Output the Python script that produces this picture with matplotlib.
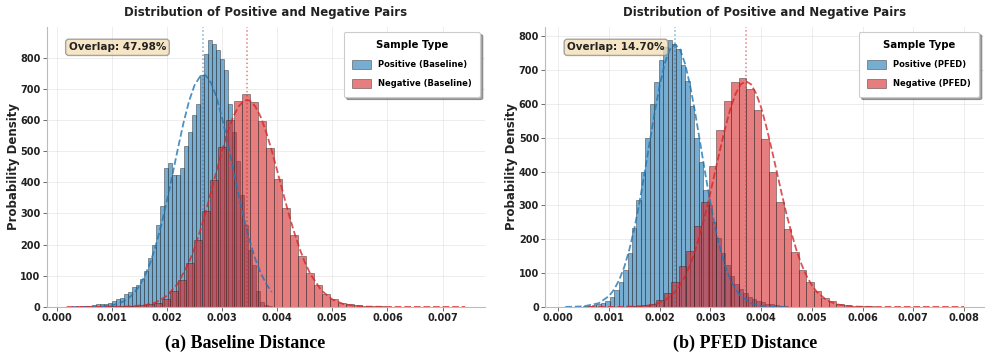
import numpy as np
import matplotlib
matplotlib.use("Agg")
import matplotlib.pyplot as plt
from matplotlib.ticker import MultipleLocator, FormatStrFormatter

# ---- histogram data (density per bin) ----
# (a) baseline
base_pos_start, base_pos_width = 0.00028, 0.0000724
base_pos_h = [0.5, 1, 1.5, 2, 3, 5, 10, 11, 11, 12,
              19, 26, 30, 41, 49, 63, 71, 90, 114, 157,
              199, 264, 323, 446, 462, 425, 425, 446, 516, 562,
              617, 653, 746, 812, 856, 845, 825, 795, 760, 652,
              562, 467, 360, 264, 183, 135, 51, 17, 6, 2]
base_neg_start, base_neg_width = 0.00018, 0.0001446
base_neg_h = [0.1, 0.2, 0.3, 0.5, 1, 1.5, 2, 3, 4, 6,
              8, 12, 25, 51, 87, 140, 215, 307, 408, 512,
              601, 662, 684, 658, 596, 510, 412, 317, 231, 162,
              108, 71, 42, 25, 14, 8, 5, 3, 2, 1.5,
              1, 0.8, 0.5, 0.5, 0.3, 0.3, 0.3, 0.3, 0.3, 0.3]

# (b) PFED
pfed_pos_start, pfed_pos_width = 0.00014, 0.0000876
pfed_pos_h = [0.3, 0.5, 0.8, 1, 2, 3, 5, 8, 12, 18,
              30, 50, 74, 110, 160, 234, 317, 400, 500, 600,
              666, 730, 767, 788, 778, 761, 714, 667, 594, 500,
              428, 347, 300, 250, 205, 160, 125, 90, 68, 52,
              40, 30, 24, 18, 14, 10, 8, 6, 4, 3]
pfed_neg_start, pfed_neg_width = 0.0006, 0.000148
pfed_neg_h = [0.1, 0.2, 0.3, 0.5, 1, 2, 3, 6, 10, 20,
              40, 75, 120, 165, 240, 310, 416, 522, 610, 665,
              677, 645, 581, 495, 399, 309, 229, 162, 110, 73,
              46, 27, 17, 10, 6, 4, 2.5, 1.5, 1, 0.8,
              0.5, 0.4, 0.3, 0.3, 0.2, 0.2, 0.2, 0.1, 0.1, 0.1]

# ---- fitted curves ----
base_pos_fit_x = [0.00028, 0.0005, 0.0008, 0.0010, 0.0011, 0.0012, 0.0013, 0.0014, 0.0015, 0.0016,
                  0.0017, 0.0018, 0.0019, 0.0020, 0.0021, 0.0022, 0.0023, 0.0024, 0.0025, 0.0026,
                  0.0027, 0.0028, 0.0029, 0.0030, 0.0031, 0.0032, 0.0033, 0.0034, 0.0035, 0.0036,
                  0.0037, 0.0038, 0.0039]
base_pos_fit_y = [0, 0.2, 1.6, 5.5, 10, 17, 28, 44, 68, 101,
                  144, 200, 267, 343, 426, 511, 592, 661, 712, 740,
                  744, 719, 672, 606, 528, 443, 359, 281, 212, 155,
                  109, 74, 48]
base_neg_fit_x = [0.00018, 0.0008, 0.0012, 0.0016, 0.0018, 0.0020, 0.0022, 0.0024, 0.0025, 0.0026,
                  0.0027, 0.0028, 0.0029, 0.0030, 0.0031, 0.0032, 0.0033, 0.0034, 0.0035, 0.0036,
                  0.0037, 0.0038, 0.0039, 0.0040, 0.0041, 0.0042, 0.0043, 0.0044, 0.0045, 0.0046,
                  0.0048, 0.0050, 0.0052, 0.0054, 0.0056, 0.0060, 0.0065, 0.00741]
base_neg_fit_y = [0, 0.04, 0.6, 5.7, 15, 36, 76, 144, 190, 244,
                  304, 370, 437, 502, 561, 610, 644, 663, 663, 644,
                  610, 561, 502, 437, 370, 304, 244, 190, 144, 106,
                  53, 24, 9.4, 3.4, 1.1, 0.1, 0, 0]
pfed_pos_fit_x = [0.00014, 0.0005, 0.0008, 0.0010, 0.0011, 0.0012, 0.0013, 0.0014, 0.0015, 0.0016,
                  0.0017, 0.0018, 0.0019, 0.0020, 0.0021, 0.0022, 0.0023, 0.0024, 0.0025, 0.0026,
                  0.0027, 0.0028, 0.0029, 0.0030, 0.0031, 0.0032, 0.0033, 0.0034, 0.0035, 0.0036,
                  0.0038, 0.0040, 0.0042, 0.00452]
pfed_pos_fit_y = [0.1, 1.7, 11, 32, 51, 79, 117, 168, 231, 307,
                  393, 484, 573, 654, 719, 761, 776, 761, 719, 654,
                  573, 484, 393, 307, 231, 168, 117, 79, 51, 32,
                  11, 3.3, 0.8, 0.05]
pfed_neg_fit_x = [0.0006, 0.0012, 0.0017, 0.0019, 0.0021, 0.0023, 0.0024, 0.0025, 0.0026, 0.0027,
                  0.0028, 0.0029, 0.0030, 0.0031, 0.0032, 0.0033, 0.0034, 0.0035, 0.0036, 0.0037,
                  0.0038, 0.0039, 0.0040, 0.0041, 0.0042, 0.0043, 0.0044, 0.0045, 0.0046, 0.0047,
                  0.0048, 0.0049, 0.0050, 0.0051, 0.0053, 0.0055, 0.0057, 0.0059, 0.0062, 0.0080]
pfed_neg_fit_y = [0, 0.1, 2.6, 7.4, 19, 44, 64, 90, 124, 166,
                  217, 274, 338, 405, 471, 534, 589, 631, 658, 667,
                  658, 631, 589, 534, 471, 405, 338, 274, 217, 166,
                  124, 90, 64, 44, 19, 7.4, 2.6, 0.8, 0.1, 0]

# mean lines and overlap
base_means = (0.00266, 0.00345)
pfed_means = (0.0023, 0.0037)
base_overlap = "Overlap: 47.98%"
pfed_overlap = "Overlap: 14.70%"

BLUE = "#1f77b4"
RED = "#d62728"


def draw_hist(ax, start, width, heights, color, label):
    heights = np.asarray(heights, dtype=float)
    lefts = start + width * np.arange(len(heights))
    ax.bar(lefts, heights, width=width, align="edge", color=color, alpha=0.6,
           edgecolor="#222222", linewidth=0.5, label=label)


def draw_panel(ax, pos, neg, pos_fit, neg_fit, means, overlap, tag):
    draw_hist(ax, *pos, BLUE, "Positive (%s)" % tag)
    draw_hist(ax, *neg, RED, "Negative (%s)" % tag)
    ax.plot(pos_fit[0], pos_fit[1], color=BLUE, linestyle="--", linewidth=1.3, alpha=0.8)
    ax.plot(neg_fit[0], neg_fit[1], color=RED, linestyle="--", linewidth=1.3, alpha=0.8)
    ax.axvline(means[0], color=BLUE, linestyle=":", linewidth=1.1, alpha=0.6)
    ax.axvline(means[1], color=RED, linestyle=":", linewidth=1.1, alpha=0.6)

    ax.set_title("Distribution of Positive and Negative Pairs", fontsize=8.5,
                 fontweight="bold", color="#222222", pad=8)
    ax.set_ylabel("Probability Density", fontsize=8.5, fontweight="bold", color="#222222")
    ax.yaxis.set_label_coords(-0.062, 0.5)
    ax.xaxis.set_major_locator(MultipleLocator(0.001))
    ax.xaxis.set_major_formatter(FormatStrFormatter("%.3f"))
    ax.yaxis.set_major_locator(MultipleLocator(100))
    ax.tick_params(labelsize=7, length=3, width=0.6, color="#555555", labelcolor="#222222", pad=1.5)
    for lab in ax.get_xticklabels() + ax.get_yticklabels():
        lab.set_fontweight("bold")
    ax.grid(True, color="#dddddd", linewidth=0.6, alpha=0.6)
    ax.set_axisbelow(True)
    for s in ("top", "right"):
        ax.spines[s].set_visible(False)
    for s in ("left", "bottom"):
        ax.spines[s].set_color("#bbbbbb")
        ax.spines[s].set_linewidth(0.8)

    ax.text(0.05, 0.945, overlap, transform=ax.transAxes, fontsize=7.5, fontweight="bold",
            color="#222222", va="top", ha="left",
            bbox=dict(boxstyle="round,pad=0.3", facecolor="wheat", alpha=0.75, edgecolor="#888888"))

    leg = ax.legend(loc="upper right", title="Sample Type", frameon=True, fancybox=True,
                    shadow=True, prop={"weight": "bold", "size": 6.0},
                    title_fontproperties={"weight": "bold", "size": 7.3},
                    borderpad=1.0, labelspacing=1.2, handlelength=2.3, handleheight=1.2,
                    borderaxespad=0.6)
    leg.get_frame().set_edgecolor("#cccccc")
    leg.get_frame().set_linewidth(0.8)


fig = plt.figure(figsize=(9.97, 3.59), dpi=100)
ax1 = fig.add_axes([0.047, 0.145, 0.4395, 0.78])
ax2 = fig.add_axes([0.547, 0.145, 0.440, 0.78])

draw_panel(ax1, (base_pos_start, base_pos_width, base_pos_h),
           (base_neg_start, base_neg_width, base_neg_h),
           (base_pos_fit_x, base_pos_fit_y), (base_neg_fit_x, base_neg_fit_y),
           base_means, base_overlap, "Baseline")
draw_panel(ax2, (pfed_pos_start, pfed_pos_width, pfed_pos_h),
           (pfed_neg_start, pfed_neg_width, pfed_neg_h),
           (pfed_pos_fit_x, pfed_pos_fit_y), (pfed_neg_fit_x, pfed_neg_fit_y),
           pfed_means, pfed_overlap, "PFED")

fig.text(0.2457, 0.045, "(a) Baseline Distance", ha="center", va="center",
         family="Liberation Serif", fontweight="bold", fontsize=13)
fig.text(0.747, 0.045, "(b) PFED Distance", ha="center", va="center",
         family="Liberation Serif", fontweight="bold", fontsize=13)

fig.savefig("out.png", dpi=100)
